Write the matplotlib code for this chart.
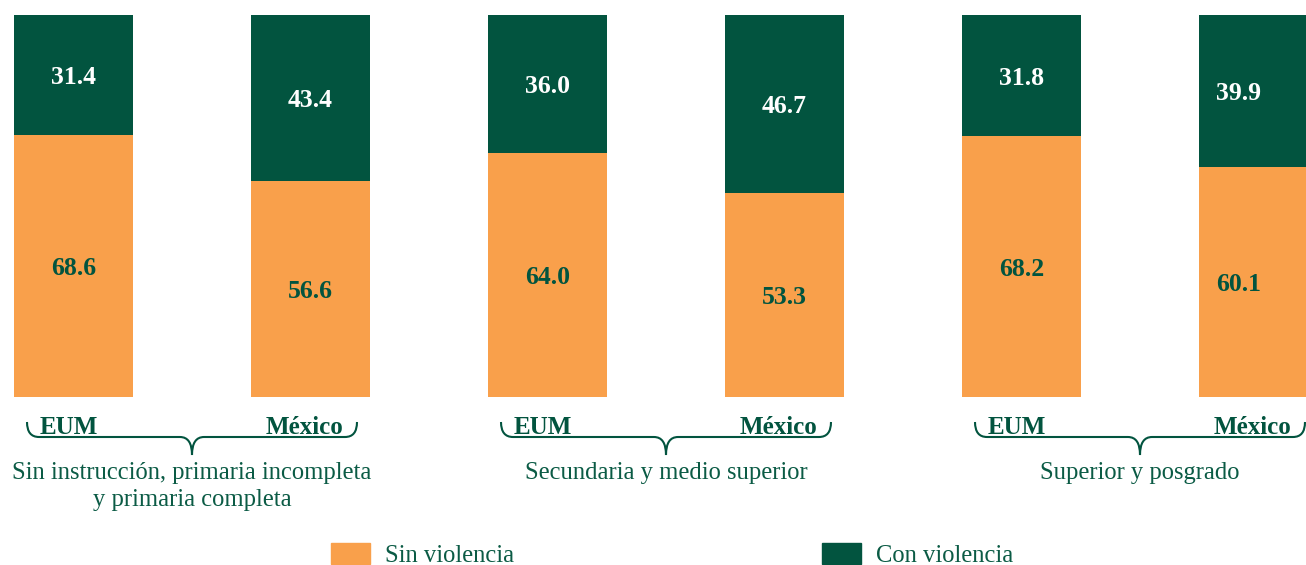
import matplotlib
matplotlib.use("Agg")
import matplotlib.pyplot as plt
import numpy as np
from matplotlib.path import Path
from matplotlib.patches import PathPatch, Patch

groups = ["Sin instrucción, primaria incompleta\ny primaria completa",
          "Secundaria y medio superior",
          "Superior y posgrado"]
places = ["EUM", "México"]
sin_violencia = [68.6, 56.6, 64.0, 53.3, 68.2, 60.1]
con_violencia = [31.4, 43.4, 36.0, 46.7, 31.8, 39.9]

ORANGE = "#F9A04B"
GREEN = "#02543F"
TEXT = "#0B5B45"
SERIF = ["Liberation Serif", "DejaVu Serif"]

W, H = 1306, 565
fig = plt.figure(figsize=(W / 100, H / 100), dpi=100)
px = 237.0            # pixels per x unit
x0px = 73.5           # pixel position of first bar centre
ax = fig.add_axes([0, (H - 397) / H, 1, 382 / H])
ax.set_xlim(-x0px / px, (W - x0px) / px)
ax.set_ylim(0, 100)
ax.axis("off")

x = np.arange(len(sin_violencia))
bw = 119 / px
ax.bar(x, sin_violencia, width=bw, color=ORANGE, zorder=2)
ax.bar(x, con_violencia, width=bw, bottom=sin_violencia, color=GREEN, zorder=2)

# last bar is cut by the figure edge, its labels sit a little to the left
lx = x.astype(float)
lx[-1] -= 20 / px
for xi, s, c in zip(lx, sin_violencia, con_violencia):
    ax.text(xi, s / 2, f"{s:.1f}", ha="center", va="center_baseline", color=GREEN,
            fontsize=18.5, fontweight="bold", family=SERIF)
    ax.text(xi, s + c / 2, f"{c:.1f}", ha="center", va="center_baseline", color="white",
            fontsize=18.5, fontweight="bold", family=SERIF)

ypx = 100 / 382  # data units per pixel in y


def yd(p):
    return -(p - 397) * ypx


def brace(ax, xc, half):
    L, R = xc - half, xc + half
    e = 12 / px
    ytop, yline, ytip = yd(422), yd(437), yd(455)
    verts = [(L, ytop), (L, yline), (L + e, yline),
             (xc - e, yline), (xc, yline), (xc, ytip),
             (xc, yline), (xc + e, yline),
             (R - e, yline), (R, yline), (R, ytop)]
    codes = [Path.MOVETO, Path.CURVE3, Path.CURVE3,
             Path.LINETO, Path.CURVE3, Path.CURVE3,
             Path.CURVE3, Path.CURVE3,
             Path.LINETO, Path.CURVE3, Path.CURVE3]
    ax.add_patch(PathPatch(Path(verts, codes), fill=False, ec=GREEN, lw=1.5,
                           clip_on=False))


for g, name in enumerate(groups):
    a, b = x[2 * g], x[2 * g + 1]
    xc = (a + b) / 2
    brace(ax, xc, 165 / px)
    ax.text(a - bw / 2 + 26 / px, yd(434), places[0], ha="left", va="baseline",
            color=GREEN, fontsize=18, fontweight="bold", family=SERIF, clip_on=False)
    ax.text(b + bw / 2 - 27 / px, yd(434), places[1], ha="right", va="baseline",
            color=GREEN, fontsize=18, fontweight="bold", family=SERIF, clip_on=False)
    ax.text(xc, yd(462), name, ha="center", va="top", color=TEXT,
            fontsize=17.7, family=SERIF, linespacing=1.3, clip_on=False)

handles = [Patch(color=ORANGE, label="Sin violencia"),
           Patch(color=GREEN, label="Con violencia")]
leg = fig.legend(handles=handles, loc="lower left", ncol=2,
                 bbox_to_anchor=(331 / W, -2 / H), frameon=False,
                 prop={"family": SERIF, "size": 17.7}, handlelength=1.6,
                 handleheight=0.9, handletextpad=0.6, columnspacing=12.5,
                 borderpad=0, borderaxespad=0)
for t in leg.get_texts():
    t.set_color(TEXT)

fig.savefig("out.png", dpi=100)
